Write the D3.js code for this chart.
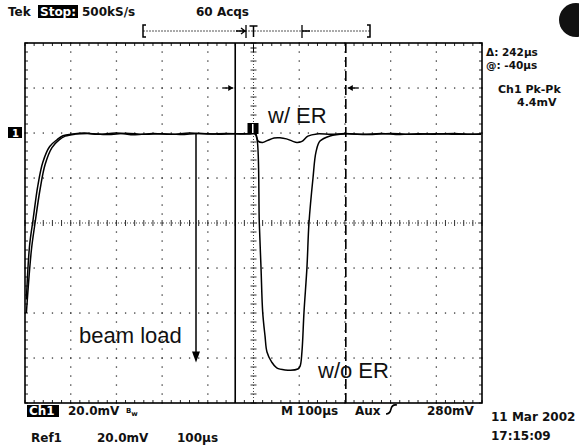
<!DOCTYPE html>
<html><head><meta charset="utf-8">
<script src="https://cdn.jsdelivr.net/npm/d3@7"></script>
<style>
body{margin:0;background:#fff;}
svg{display:block;}
.scope{font-family:"DejaVu Sans",sans-serif;font-weight:bold;font-size:12px;fill:#111;}
.ann{font-family:"Liberation Sans",Arial,sans-serif;font-size:22px;fill:#111;}
</style></head>
<body>
<svg id="c" width="579" height="446"></svg>
<script>
// ---- data (time in µs, voltage in mV relative to screen centre) ----
const withERTime = [-497,-490,-482,-472,-461,-446,-430,-417,-395,-370,-340,-300,-260,-220,-180,-140,-100,-60,-20,0,5,10,20,30,45,58,72,85,95,106,119,139,170,200,240,280,320,360,400,440,480,498];
const withERVolt = [-34,-10,2,16.5,27,34,37,38.8,39.6,40,39.4,40,39.2,39.8,39.4,40,39.6,39.8,39.6,39.8,39.6,36.4,35.8,36.6,37.8,37.9,37.4,36.4,35.8,36.3,38.6,39.6,39.4,39.8,39.4,39.8,39.3,39.7,39.5,39.8,39.4,39.6];
const withoutERTime = [-497,-486,-478,-467,-456,-441,-426,-412,-390,-360,-320,-280,-240,-200,-160,-120,-80,-40,-10,3,7.7,12.7,16.4,20.1,25.2,29.5,39.8,50.8,69,97,102,106,110.5,117,121.4,130.2,136.8,145.5,167.4,200,250,300,350,400,450,498];
const withoutERVolt = [-40,-12,0,15,26,33.5,36.8,38.6,39.5,39.8,39.3,39.9,39.4,39.7,39.3,39.8,39.5,39.7,39.6,39.6,37.3,0,-19.6,-39.6,-50.2,-57.3,-61.8,-64.4,-65.3,-64.9,-63.6,-57.3,-39.6,-19.6,0,20,31.6,36.4,38.7,39.6,39.3,39.8,39.4,39.7,39.4,39.6];
const timeDomain = [-500, 500];   // 100 µs/div, 10 div
const voltDomain = [-80, 80];     // 20 mV/div, 8 div
const cursorTimes = [-40, 202];   // Δ 242 µs, @ -40 µs
const beamLoadVolt = [40, -62];
const topLabels = ["Tek", "Stop:", "500kS/s", "60 Acqs"];
const rightLabels = ["Δ: 242µs", "@: -40µs", "Ch1 Pk-Pk", "4.4mV"];
const bottomLabels = ["Ch1", "20.0mV", "M 100µs", "Aux", "280mV", "11 Mar 2002", "17:15:09", "Ref1", "20.0mV", "100µs"];

const svg = d3.select("#c");
const x = d3.scaleLinear().domain(timeDomain).range([25, 482]);
const y = d3.scaleLinear().domain(voltDomain).range([403, 43]);

// graticule
const g = svg.append("g");
const majT = d3.range(-400, 500, 100);
const majV = d3.range(-60, 80, 20);
const minT = d3.range(-500, 501, 20);
const minV = d3.range(-80, 81, 4);
majT.forEach(t => {
  if (t === 0) return;
  minV.forEach(v => g.append("rect").attr("x", x(t)-0.6).attr("y", y(v)-0.6).attr("width",1.3).attr("height",1.3).attr("fill","#333"));
});
majV.forEach(v => {
  if (v === 0) return;
  minT.forEach(t => g.append("rect").attr("x", x(t)-0.6).attr("y", y(v)-0.6).attr("width",1.3).attr("height",1.3).attr("fill","#333"));
});
// centre lines with ticks
g.append("line").attr("x1",x(0)).attr("x2",x(0)).attr("y1",y(80)).attr("y2",y(-80)).attr("stroke","#444").attr("stroke-width",1).attr("stroke-dasharray","1,2");
g.append("line").attr("x1",x(-500)).attr("x2",x(500)).attr("y1",y(0)).attr("y2",y(0)).attr("stroke","#444").attr("stroke-width",1).attr("stroke-dasharray","1,2");
minV.forEach(v => g.append("line").attr("x1",x(0)-3).attr("x2",x(0)+3).attr("y1",y(v)).attr("y2",y(v)).attr("stroke","#333").attr("stroke-width",1));
minT.forEach(t => g.append("line").attr("x1",x(t)).attr("x2",x(t)).attr("y1",y(0)-3).attr("y2",y(0)+3).attr("stroke","#333").attr("stroke-width",1));
// border ticks
minT.forEach(t => {
  g.append("line").attr("x1",x(t)).attr("x2",x(t)).attr("y1",y(80)).attr("y2",y(80)+3).attr("stroke","#222");
  g.append("line").attr("x1",x(t)).attr("x2",x(t)).attr("y1",y(-80)).attr("y2",y(-80)-3).attr("stroke","#222");
});
minV.forEach(v => {
  g.append("line").attr("x1",x(-500)).attr("x2",x(-500)+3).attr("y1",y(v)).attr("y2",y(v)).attr("stroke","#222");
  g.append("line").attr("x1",x(500)).attr("x2",x(500)-3).attr("y1",y(v)).attr("y2",y(v)).attr("stroke","#222");
});
g.append("rect").attr("x",x(-500)).attr("y",y(80)).attr("width",x(500)-x(-500)).attr("height",y(-80)-y(80))
  .attr("fill","none").attr("stroke","#000").attr("stroke-width",1.6);

// cursors
svg.append("line").attr("x1",x(cursorTimes[0])).attr("x2",x(cursorTimes[0])).attr("y1",y(80)).attr("y2",y(-80)).attr("stroke","#000").attr("stroke-width",1.6);
svg.append("line").attr("x1",x(cursorTimes[1])).attr("x2",x(cursorTimes[1])).attr("y1",y(80)).attr("y2",y(-80)).attr("stroke","#000").attr("stroke-width",1.6).attr("stroke-dasharray","10,4");
// cursor arrows at first grid line
const ay = y(60);
svg.append("path").attr("d",`M${x(cursorTimes[0])-13},${ay}H${x(cursorTimes[0])-2}`).attr("stroke","#000").attr("stroke-width",1.3);
svg.append("path").attr("d",`M${x(cursorTimes[0])-2},${ay}l-5,-3v6z`).attr("fill","#000");
svg.append("path").attr("d",`M${x(cursorTimes[1])+13},${ay}H${x(cursorTimes[1])+2}`).attr("stroke","#000").attr("stroke-width",1.3);
svg.append("path").attr("d",`M${x(cursorTimes[1])+2},${ay}l5,-3v6z`).attr("fill","#000");

// traces
const line = d3.line().x(d => x(d[0])).y(d => y(d[1])).curve(d3.curveCatmullRom.alpha(0.5));
svg.append("path").datum(withoutERTime.map((t,i)=>[t, withoutERVolt[i]])).attr("d", line)
  .attr("fill","none").attr("stroke","#000").attr("stroke-width",1.5);
svg.append("path").datum(withERTime.map((t,i)=>[t, withERVolt[i]])).attr("d", line)
  .attr("fill","none").attr("stroke","#000").attr("stroke-width",1.5);

// ground marker and trigger marker
svg.append("rect").attr("x",8).attr("y",y(40)-6).attr("width",14).attr("height",11).attr("fill","#000");
svg.append("text").attr("x",12).attr("y",y(40)+4).attr("fill","#fff").attr("font-family","DejaVu Sans").attr("font-weight","bold").attr("font-size",10).text("1");
svg.append("rect").attr("x",x(0)-6).attr("y",y(40)-10).attr("width",11).attr("height",11).attr("fill","#000");
svg.append("rect").attr("x",x(0)-1.5).attr("y",y(40)-9).attr("width",1.5).attr("height",9).attr("fill","#fff");

// beam load arrow
const bx = 196;
svg.append("line").attr("x1",bx).attr("x2",bx).attr("y1",y(beamLoadVolt[0])).attr("y2",y(beamLoadVolt[1])-8).attr("stroke","#000").attr("stroke-width",1.5);
svg.append("path").attr("d",`M${bx},${y(beamLoadVolt[1])}l-4,-11h8z`).attr("fill","#000");

// annotations
svg.append("text").attr("class","ann").attr("x",268).attr("y",123).text("w/ ER");
svg.append("text").attr("class","ann").attr("x",79).attr("y",343).text("beam load");
svg.append("text").attr("class","ann").attr("x",318).attr("y",378).text("w/o ER");

// top record bar
svg.append("line").attr("x1",143).attr("x2",370).attr("y1",31).attr("y2",31).attr("stroke","#555").attr("stroke-width",1).attr("stroke-dasharray","2,1");
svg.append("path").attr("d","M146,25H143V37H146").attr("fill","none").attr("stroke","#000").attr("stroke-width",1.5);
svg.append("path").attr("d","M367,25H370V37H367").attr("fill","none").attr("stroke","#000").attr("stroke-width",1.5);
svg.append("path").attr("d","M236,31H245M241,28l4,3l-4,3M246,25V38").attr("fill","none").attr("stroke","#000").attr("stroke-width",1.3);
svg.append("path").attr("d",`M${x(0)-4},26H${x(0)+4}M${x(0)},26V37`).attr("fill","none").attr("stroke","#000").attr("stroke-width",1.5);
svg.append("path").attr("d","M302,25V38M302,31H310").attr("fill","none").attr("stroke","#000").attr("stroke-width",1.3);
svg.append("path").attr("d",`M${x(0)-3},48H${x(0)+3}M${x(0)},45V52`).attr("stroke","#000");

// top labels
svg.append("text").attr("class","scope").attr("x",8).attr("y",16).text(topLabels[0]);
svg.append("rect").attr("x",38).attr("y",5).attr("width",40).attr("height",13).attr("fill","#000");
svg.append("text").attr("class","scope").attr("x",40).attr("y",16).style("fill","#fff").text(topLabels[1]);
svg.append("text").attr("class","scope").attr("x",82).attr("y",16).text(topLabels[2]);
svg.append("text").attr("class","scope").attr("x",196).attr("y",16).text(topLabels[3]);

// right labels
svg.append("text").attr("class","scope").style("font-size","10.5px").attr("x",486).attr("y",56).text(rightLabels[0]);
svg.append("text").attr("class","scope").style("font-size","10.5px").attr("x",486).attr("y",68.5).text(rightLabels[1]);
svg.append("text").attr("class","scope").style("font-size","11px").attr("x",498).attr("y",93).text(rightLabels[2]);
svg.append("text").attr("class","scope").style("font-size","11px").attr("x",517).attr("y",106).text(rightLabels[3]);

// bottom labels
svg.append("rect").attr("x",27).attr("y",405).attr("width",32).attr("height",12).attr("fill","#000");
svg.append("text").attr("class","scope").attr("x",29).attr("y",415).style("fill","#fff").text(bottomLabels[0]);
svg.append("text").attr("class","scope").attr("x",68).attr("y",415).text(bottomLabels[1]);
const bw = svg.append("text").attr("class","scope").attr("x",126).attr("y",413).style("font-size","7px");
bw.append("tspan").text("B");
bw.append("tspan").attr("dy",3).text("w");
svg.append("text").attr("class","scope").attr("x",281).attr("y",415).text(bottomLabels[2]);
svg.append("text").attr("class","scope").attr("x",355).attr("y",415).text(bottomLabels[3]);
svg.append("path").attr("d","M386,414Q390,414 391,409T397,405").attr("fill","none").attr("stroke","#000").attr("stroke-width",1.6);
svg.append("text").attr("class","scope").attr("x",427).attr("y",415).text(bottomLabels[4]);
svg.append("text").attr("class","scope").attr("x",491).attr("y",421).text(bottomLabels[5]);
svg.append("text").attr("class","scope").attr("x",491).attr("y",440).text(bottomLabels[6]);
svg.append("text").attr("class","scope").attr("x",31).attr("y",442).text(bottomLabels[7]);
svg.append("text").attr("class","scope").attr("x",97).attr("y",442).text(bottomLabels[8]);
svg.append("text").attr("class","scope").attr("x",177).attr("y",442).text(bottomLabels[9]);

// dark blob top right
svg.append("circle").attr("cx",576).attr("cy",20).attr("r",17).attr("fill","#111");
</script>
</body></html>
